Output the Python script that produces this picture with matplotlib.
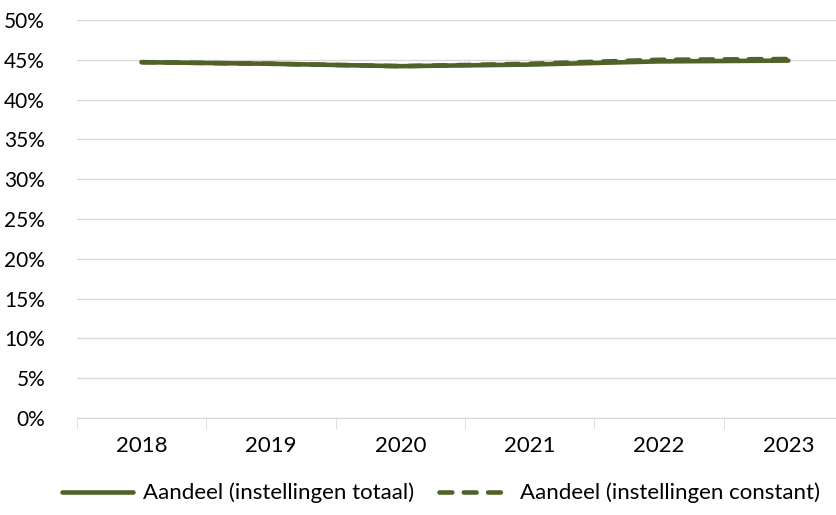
import matplotlib.pyplot as plt
from matplotlib.ticker import PercentFormatter

years = ["2018", "2019", "2020", "2021", "2022", "2023"]
totaal = [44.7, 44.5, 44.2, 44.4, 44.8, 44.9]
constant = [44.7, 44.5, 44.2, 44.5, 45.0, 45.1]

green = "#4F6228"
plt.rcParams['font.family'] = ['Lato', 'DejaVu Sans']

fig = plt.figure(figsize=(8.36, 5.15), dpi=100)
ax = fig.add_axes([77 / 836, (515 - 418) / 515, (853 - 77) / 836, (418 - 20) / 515])

x = range(len(years))
ax.plot(x, totaal, color=green, lw=3.3, solid_capstyle='round',
        label="Aandeel (instellingen totaal)")
ax.plot(x, constant, color=green, lw=3.3, ls=(0, (2.8, 2.5)), dash_capstyle='round',
        label="Aandeel (instellingen constant)")

ax.set_xlim(-0.5, 5.5)
ax.set_ylim(0, 50)
ax.set_yticks(range(0, 51, 5))
ax.yaxis.set_major_formatter(PercentFormatter(decimals=0))
ax.set_xticks(x)
ax.set_xticklabels(years)
ax.set_xticks([i - 0.5 for i in range(len(years) + 1)], minor=True)
ax.tick_params(axis='x', which='major', length=0, pad=13, labelsize=16)
ax.tick_params(axis='x', which='minor', length=8, color="#D9D9D9")
ax.tick_params(axis='y', length=0, pad=23, labelsize=15)
ax.grid(axis='y', color="#D9D9D9", lw=1)
ax.set_axisbelow(True)
for s in ["top", "right", "left"]:
    ax.spines[s].set_visible(False)
ax.spines["bottom"].set_color("#D9D9D9")

fig.legend(loc="center", bbox_to_anchor=(441 / 836, (515 - 493) / 515), ncol=2, frameon=False,
           fontsize=16, handlelength=3.2, handletextpad=0.45, columnspacing=1.1)

fig.savefig("out.png", dpi=100)
